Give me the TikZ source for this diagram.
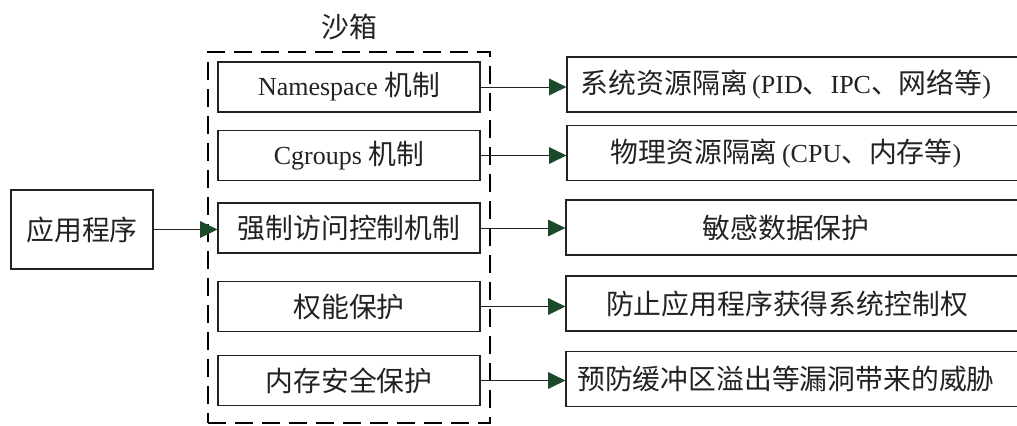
\documentclass[tikz,border=0pt]{standalone}
\usepackage{fontspec}
\setmainfont{Liberation Serif}
\newfontfamily\cjk[Scale=1.07]{Noto Sans CJK SC}
\usetikzlibrary{arrows.meta}
\definecolor{arrgreen}{HTML}{1B4A2B}
\definecolor{ln}{HTML}{222222}
\begin{document}
\begin{tikzpicture}[x=0.75pt,y=-0.75pt,
 every node/.style={font=\fontsize{19.5}{23}\selectfont, text=ln},
 box/.style={draw=ln, line width=0.9pt, inner sep=0pt, minimum height=37.5pt},
 midbox/.style={box, minimum width=196.5pt},
 rbox/.style={box, minimum width=347.25pt, minimum height=41.25pt},
 sandbox/.style={draw=black, line width=1.5pt, dash pattern=on 13.5pt off 6.75pt, minimum width=211.5pt, minimum height=278.25pt, inner sep=0pt},
 arr/.style={draw=ln, line width=0.75pt, -{Triangle[length=13pt,width=12.5pt,color=arrgreen,fill=arrgreen]}}]
\clip (0,0) rectangle (1017,425);
\fill[white] (0,0) rectangle (1017,425);

\node[sandbox] (sb) at (349,237.5) {};
\node (title) at (349,27) {\cjk 沙箱};

\node[box, minimum width=106.5pt, minimum height=59.25pt] (app) at (82,229.5) {\cjk 应用程序};

\node[midbox] (m1) at (349,87) {Namespace {\cjk 机制}};
\node[midbox] (m2) at (349,155.5) {Cgroups {\cjk 机制}};
\node[midbox] (m3) at (349,228) {\cjk 强制访问控制机制};
\node[midbox] (m4) at (349,306.5) {\cjk 权能保护};
\node[midbox] (m5) at (349,380.5) {\cjk 内存安全保护};

\node[rbox] (r1) at (798.5,84.5) {};
\node[rbox] (r2) at (798.5,153) {};
\node[rbox] (r3) at (797.5,227.5) {};
\node[rbox] (r4) at (797.5,303.5) {};
\node[rbox] (r5) at (797.5,379) {};

\node (t1) at (786,84.5) {{\cjk 系统资源隔离}\,(PID{\cjk 、}IPC{\cjk 、网络等})};
\node (t2) at (786,153) {{\cjk 物理资源隔离}\,(CPU{\cjk 、内存等})};
\node (t3) at (786,227.5) {\cjk 敏感数据保护};
\node (t4) at (787,303.5) {\cjk 防止应用程序获得系统控制权};
\node (t5) at (786,379) {\cjk 预防缓冲区溢出等漏洞带来的威胁};

\draw[arr] (app.east) -- (app.east -| m3.west);
\draw[arr] (m1.east) -- (m1.east -| r1.west);
\draw[arr] (m2.east) -- (m2.east -| r2.west);
\draw[arr] (m3.east) -- (m3.east -| r3.west);
\draw[arr] (m4.east) -- (m4.east -| r4.west);
\draw[arr] (m5.east) -- (m5.east -| r5.west);
\end{tikzpicture}
\end{document}
